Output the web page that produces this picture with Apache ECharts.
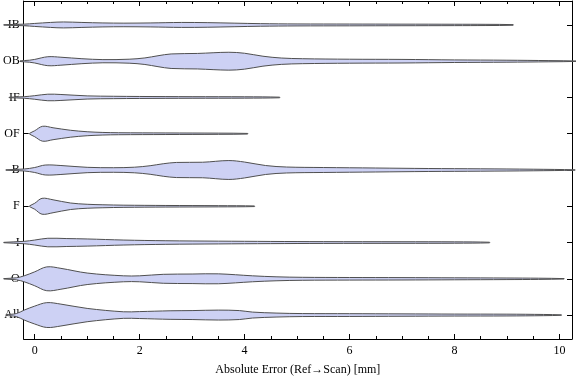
<!DOCTYPE html>
<html>
<head>
<meta charset="utf-8">
<script src="https://cdn.jsdelivr.net/npm/echarts@6/dist/echarts.min.js"></script>
<style>html,body{margin:0;padding:0;background:#fff}#c{width:576px;height:381px}</style>
</head>
<body>
<div id="c"></div>
<script>
// Categories from top to bottom
const categories = ['IB', 'OB', 'IF', 'OF', 'B', 'F', 'I', 'O', 'All'];
const xTickLabels = [0, 2, 4, 6, 8, 10];
const xMinorTicks = [0.5, 1, 1.5, 2.5, 3, 3.5, 4.5, 5, 5.5, 6.5, 7, 7.5, 8.5, 9, 9.5];

// Violin profiles: error values (mm) and estimated density (half-width)
const xIB = [-0.59, -0.2, 0, 0.3, 0.55, 0.9, 1.3, 1.7, 2.2, 2.8, 3.3, 3.8, 4.3, 5, 6, 7, 8, 8.6, 9.12];
const dIB = [0.2, 0.8, 1.5, 2.5, 3, 2.5, 2, 1.8, 2, 2.5, 2.3, 1.8, 1.3, 1, 0.9, 0.8, 0.7, 0.6, 0.3];

const xOB = [-0.28, -0.1, 0, 0.25, 0.5, 0.9, 1.3, 1.8, 2.1, 2.35, 2.6, 3.1, 3.7, 4.0, 4.35, 4.7, 5.1, 6, 7, 8, 9, 9.8, 10.34];
const dOB = [0.3, 1, 1.8, 4.5, 4, 2.5, 1.6, 2, 3.3, 5.5, 7.3, 7.8, 9, 8, 5, 3.2, 2.5, 2, 1.8, 1.3, 1, 0.6, 0.2];

const xIF = [-0.49, -0.2, 0, 0.25, 0.5, 1.0, 1.5, 2, 3, 4, 4.67];
const dIF = [0.2, 0.8, 1.8, 3.3, 3, 1.6, 1.2, 1, 0.8, 0.7, 0.3];

const xOF = [-0.1, 0, 0.15, 0.35, 0.68, 1.0, 1.3, 1.6, 2.5, 3.5, 4.06];
const dOF = [0.3, 3, 7.5, 6, 3.5, 2, 1.3, 1, 0.8, 0.6, 0.3];

const xB = [-0.55, -0.2, 0, 0.2, 0.5, 1, 1.5, 1.9, 2.2, 2.45, 2.7, 3.2, 3.7, 4.0, 4.4, 4.8, 5.5, 6.5, 7.5, 8.5, 9.5, 10.3];
const dB = [0.2, 1, 2.5, 5, 4.5, 2.7, 2.3, 2.8, 4.3, 6.3, 7.6, 7.8, 9.5, 8, 4.5, 3, 2.5, 2, 1.5, 1.2, 0.8, 0.2];

const xF = [-0.1, 0, 0.14, 0.35, 0.68, 1.0, 1.3, 1.7, 2.5, 3.5, 4.19];
const dF = [0.3, 3, 8, 6.5, 3.3, 2, 1.5, 1.1, 0.8, 0.6, 0.3];

const xI = [-0.59, -0.2, 0, 0.25, 0.6, 1.0, 1.7, 2.5, 3.5, 4.5, 5.5, 7, 8, 8.67];
const dI = [0.2, 1.2, 2.5, 4.3, 4, 3.6, 2.5, 1.8, 1.4, 1.1, 0.9, 0.8, 0.7, 0.3];

const xO = [-0.59, -0.35, -0.2, 0, 0.23, 0.5, 1.0, 1.69, 2.0, 2.45, 3.0, 3.5, 4.15, 4.6, 5.1, 6, 7, 8, 9, 9.6, 10.09];
const dO = [0.2, 1, 3, 7, 12, 10.5, 5.8, 3, 3, 4.5, 4.8, 5, 3, 2, 1.5, 1.3, 1.2, 1, 0.8, 0.6, 0.2];

const xAll = [-0.55, -0.35, -0.2, 0, 0.23, 0.5, 1.0, 1.69, 2.0, 2.58, 3.0, 3.5, 3.9, 4.15, 4.6, 5.1, 6, 7, 8, 9, 9.7, 10.04];
const dAll = [0.3, 1.5, 5, 9, 12.5, 11, 6.7, 3.3, 3.5, 4.3, 4.5, 5, 4.5, 3, 2, 1.5, 1.4, 1.2, 1, 0.9, 0.6, 0.2];

const profiles = [
  [xIB, dIB], [xOB, dOB], [xIF, dIF], [xOF, dOF], [xB, dB],
  [xF, dF], [xI, dI], [xO, dO], [xAll, dAll]
];

const n = categories.length;
// row value: top category gets n-1, bottom gets 0
const rows = categories.map((c, k) => n - 1 - k);

const FONT = 'Liberation Serif';

const chart = echarts.init(document.getElementById('c'));

function renderViolin(params, api) {
  const k = params.dataIndex;
  const row = rows[k];
  const [xs, ds] = profiles[k];
  const unit = api.size([0, 1])[1]; // pixels per row
  const scale = unit / 36.5;
  const upper = [], lower = [];
  for (let j = 0; j < xs.length; j++) {
    const p = api.coord([xs[j], row]);
    upper.push([p[0], p[1] - ds[j] * scale]);
    lower.push([p[0], p[1] + ds[j] * scale]);
  }
  const pts = upper.concat(lower.reverse());
  return {
    type: 'polygon',
    shape: { points: pts, smooth: 0.35 },
    style: { fill: '#cdd1f4', stroke: '#505050', lineWidth: 1 }
  };
}

const yMin = -0.66, yMax = 8.66;
const xMin = -0.21, xMax = 10.24;

const option = {
  animation: false,
  backgroundColor: '#fff',
  grid: { left: 20, right: 4, top: 1, bottom: 40, containLabel: false },
  xAxis: [
    {
      type: 'value', min: xMin, max: xMax, position: 'bottom',
      axisLine: { show: true, onZero: false, lineStyle: { color: '#000', width: 1 } },
      axisTick: { show: true, inside: true, length: 5, customValues: xTickLabels, lineStyle: { color: '#000' } },
      axisLabel: { show: true, customValues: xTickLabels, color: '#000', fontFamily: FONT, fontSize: 12, margin: 6 },
      splitLine: { show: false },
      name: 'Absolute Error (Ref\u2192Scan) [mm]', nameLocation: 'middle', nameGap: 25,
      nameTextStyle: { color: '#000', fontFamily: FONT, fontSize: 12 }
    },
    {
      type: 'value', min: xMin, max: xMax, position: 'bottom',
      axisLine: { show: false, onZero: false },
      axisTick: { show: true, inside: true, length: 3, customValues: xMinorTicks, lineStyle: { color: '#000' } },
      axisLabel: { show: false }, splitLine: { show: false }
    },
    {
      type: 'value', min: xMin, max: xMax, position: 'top',
      axisLine: { show: true, onZero: false, lineStyle: { color: '#000', width: 1 } },
      axisTick: { show: true, inside: true, length: 5, customValues: xTickLabels, lineStyle: { color: '#000' } },
      axisLabel: { show: false }, splitLine: { show: false }
    },
    {
      type: 'value', min: xMin, max: xMax, position: 'top',
      axisLine: { show: false, onZero: false },
      axisTick: { show: true, inside: true, length: 3, customValues: xMinorTicks, lineStyle: { color: '#000' } },
      axisLabel: { show: false }, splitLine: { show: false }
    }
  ],
  yAxis: [
    {
      type: 'value', min: yMin, max: yMax, position: 'left',
      axisLine: { show: true, onZero: false, lineStyle: { color: '#000', width: 1 } },
      axisTick: { show: true, inside: true, length: 5, customValues: rows, lineStyle: { color: '#000' } },
      axisLabel: {
        show: true, customValues: rows, color: '#000', fontFamily: FONT, fontSize: 12, margin: 4,
        formatter: v => categories[n - 1 - Math.round(v)]
      },
      splitLine: { show: false }
    },
    {
      type: 'value', min: yMin, max: yMax, position: 'right',
      axisLine: { show: true, onZero: false, lineStyle: { color: '#000', width: 1 } },
      axisTick: { show: true, inside: true, length: 5, customValues: rows, lineStyle: { color: '#000' } },
      axisLabel: { show: false }, splitLine: { show: false }
    }
  ],
  series: [{
    type: 'custom',
    xAxisIndex: 0, yAxisIndex: 0,
    clip: false,
    renderItem: renderViolin,
    data: rows.map(r => [0, r]),
    encode: { x: 0, y: 1 }
  }]
};
chart.setOption(option);
</script>
</body>
</html>
